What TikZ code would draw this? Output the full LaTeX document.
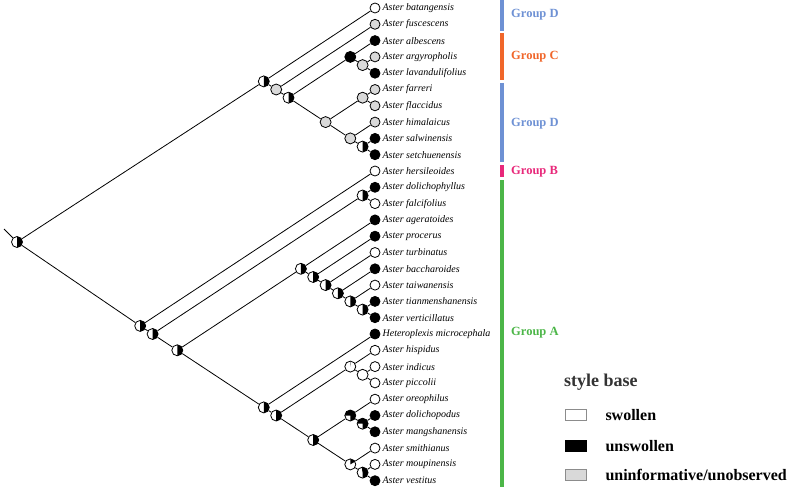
\documentclass[tikz,border=0pt]{standalone}
\usepackage{fontspec}
\setmainfont{Liberation Serif}
\usetikzlibrary{positioning}

\definecolor{grpA}{RGB}{76,182,72}
\definecolor{grpB}{RGB}{232,40,122}
\definecolor{grpC}{RGB}{240,102,42}
\definecolor{grpD}{RGB}{110,145,212}
\definecolor{uninfgray}{RGB}{217,217,217}

\begin{document}
\begin{tikzpicture}[
  x=1pt, y=-1pt,
  edge/.style={draw, line width=0.8pt},
  state/.style={circle, draw, line width=0.8pt, inner sep=0pt, minimum size=10pt},
  swollen/.style={state, fill=white},
  unswollen/.style={state, fill=black},
  uninf/.style={state, fill=uninfgray},
  pie/.style n args={2}{state, fill=white, minimum size=11pt,
    path picture={\fill[black] (path picture bounding box.center) -- ++(#1:8pt)
      arc[start angle=#1, end angle=#2, radius=8pt] -- cycle;}},
  half/.style={pie={-90}{90}},
  inner/.style={uninf, minimum size=11pt},
  taxon/.style={font=\fontsize{10}{12}\selectfont\itshape, inner sep=1pt},
  grp/.style={font=\fontsize{12.5}{14}\selectfont\bfseries, anchor=west, inner sep=0pt},
  bar/.style={line width=3.3pt},
  legbox/.style={draw=black!45, line width=0.6pt, minimum width=21pt, minimum height=11pt, inner sep=0pt},
  legtext/.style={font=\fontsize{16}{18}\selectfont\bfseries, inner sep=0pt}
]
\useasboundingbox (0,0) rectangle (790,487);

% tips
\foreach \i/\st/\sp in {1/swollen/Aster batangensis, 2/uninf/Aster fuscescens,
  3/unswollen/Aster albescens, 4/uninf/Aster argyropholis,
  5/unswollen/Aster lavandulifolius, 6/uninf/Aster farreri,
  7/uninf/Aster flaccidus, 8/uninf/Aster himalaicus,
  9/unswollen/Aster salwinensis, 10/unswollen/Aster setchuenensis,
  11/swollen/Aster hersileoides, 12/unswollen/Aster dolichophyllus,
  13/swollen/Aster falcifolius, 14/unswollen/Aster ageratoides,
  15/unswollen/Aster procerus, 16/swollen/Aster turbinatus,
  17/unswollen/Aster baccharoides, 18/swollen/Aster taiwanensis,
  19/unswollen/Aster tianmenshanensis, 20/unswollen/Aster verticillatus,
  21/unswollen/Heteroplexis microcephala, 22/swollen/Aster hispidus,
  23/swollen/Aster indicus, 24/swollen/Aster piccolii,
  25/swollen/Aster oreophilus, 26/unswollen/Aster dolichopodus,
  27/unswollen/Aster mangshanensis, 28/swollen/Aster smithianus,
  29/swollen/Aster moupinensis, 30/unswollen/Aster vestitus}{
  \node[\st] (t\i) at (375,{8+(\i-1)*16.3}) {};
  \node[taxon, right=1pt of t\i] (n\i) {\sp};
}

% ancestral states
\node[half] (R) at (17,242) {};
\coordinate (stem) at (4,229);
\node[half] (U0) at (263.8,81.4) {};
\node[inner] (U1) at (276.2,89.5) {};
\node[half] (U2) at (288.5,97.7) {};
\node[state, fill=black, minimum size=11pt] (C0) at (350.3,56.9) {};
\node[inner] (C1) at (362.6,65.1) {};
\node[inner] (D0) at (325.6,122.1) {};
\node[inner] (D1) at (362.6,97.7) {};
\node[inner] (D2) at (350.3,138.4) {};
\node[half] (D3) at (362.6,146.6) {};
\node[half] (L0) at (140.2,325.9) {};
\node[half] (L1) at (152.6,334) {};
\node[half] (B0) at (362.6,195.5) {};
\node[half] (L2) at (177.3,350.3) {};
\node[half] (A1) at (300.9,268.8) {};
\node[half] (A2) at (313.2,277) {};
\node[half] (A3) at (325.6,285.1) {};
\node[half] (A4) at (337.9,293.3) {};
\node[half] (A5) at (350.3,301.4) {};
\node[half] (A6) at (362.6,309.6) {};
\node[half] (L3) at (263.8,407.4) {};
\node[half] (L4) at (276.2,415.5) {};
\node[pie={88}{92}] (H0) at (350.3,366.6) {};
\node[swollen, minimum size=11pt] (H1) at (362.6,374.8) {};
\node[half] (M0) at (313.2,440) {};
\node[pie={-90}{180}] (O0) at (350.3,415.5) {};
\node[pie={-90}{180}] (O1) at (362.6,423.7) {};
\node[pie={30}{90}] (S0) at (350.3,464.4) {};
\node[pie={-90}{100}] (S1) at (362.6,472.6) {};

\draw[edge] (stem) -- (R);
\foreach \a/\b in {R/U0, R/L0, U0/t1, U0/U1, U1/t2, U1/U2, U2/C0, U2/D0,
  C0/t3, C0/C1, C1/t4, C1/t5, D0/D1, D0/D2, D1/t6, D1/t7, D2/t8, D2/D3,
  D3/t9, D3/t10, L0/t11, L0/L1, L1/B0, L1/L2, B0/t12, B0/t13, L2/A1, L2/L3,
  A1/t14, A1/A2, A2/t15, A2/A3, A3/t16, A3/A4, A4/t17, A4/A5, A5/t18, A5/A6,
  A6/t19, A6/t20, L3/t21, L3/L4, L4/H0, L4/M0, H0/t22, H0/H1, H1/t23, H1/t24,
  M0/O0, M0/S0, O0/t25, O0/O1, O1/t26, O1/t27, S0/t28, S0/S1, S1/t29, S1/t30}
  \draw[edge] (\a) -- (\b);

% groups
\draw[bar, grpD] (502,0) -- (502,31);
\draw[bar, grpC] (502,33) -- (502,80);
\draw[bar, grpD] (502,83) -- (502,162);
\draw[bar, grpB] (502,165) -- (502,177);
\draw[bar, grpA] (502,180) -- (502,487);
\node[grp, text=grpD] (gD1) at (511,15) {Group D};
\node[grp, text=grpC] (gC) at (511,57) {Group C};
\node[grp, text=grpD] (gD2) at (511,124) {Group D};
\node[grp, text=grpB] (gB) at (511,172) {Group B};
\node[grp, text=grpA] (gA) at (511,333) {Group A};

% legend
\node[font=\fontsize{18}{20}\selectfont\bfseries, text=black!80, anchor=west, inner sep=0pt] (lhead) at (564,382) {style base};
\node[legbox, fill=white] (ksw) at (575.5,415) {};
\node[legbox, fill=black, draw=black] (kun) at (575.5,446) {};
\node[legbox, fill=uninfgray] (kui) at (575.5,475) {};
\node[legtext, right=19pt of ksw] (lsw) {swollen};
\node[legtext, right=19pt of kun] (lun) {unswollen};
\node[legtext, right=19pt of kui] (lui) {uninformative/unobserved};
\end{tikzpicture}
\end{document}
